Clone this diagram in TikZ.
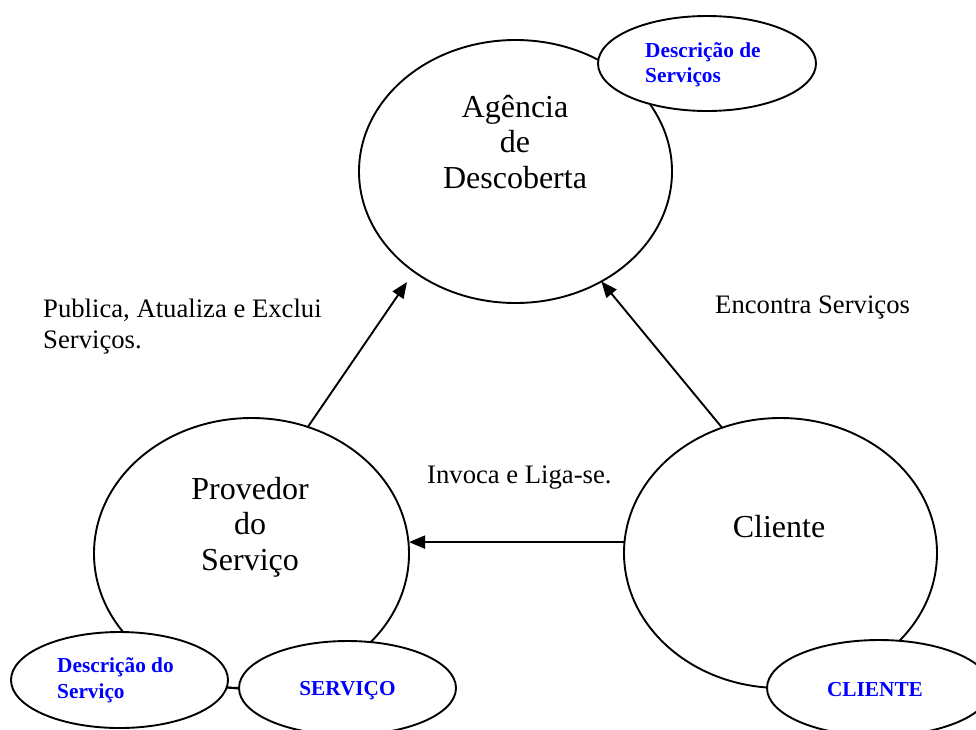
\documentclass[tikz,border=0pt]{standalone}
\usepackage{fontspec}
\setmainfont{Liberation Serif}
\usetikzlibrary{shapes.geometric,arrows.meta}
\definecolor{lblue}{RGB}{0,0,255}
\begin{document}
\begin{tikzpicture}[x=1pt,y=-1pt,
  ell/.style={ellipse,draw,line width=1.9pt,inner sep=0pt,outer sep=0pt,fill=white},
  bigtxt/.style={inner sep=0pt,align=center,font=\fontsize{32}{35.5}\selectfont},
  lbltxt/.style={inner sep=0pt,align=left,font=\fontsize{26.67}{31}\selectfont},
  bluetxt/.style={inner sep=0pt,align=left,text=lblue,font=\fontsize{21.3}{25.5}\selectfont\bfseries},
  arr/.style={line width=1.9pt,-{Triangle[length=16pt,width=13pt]}},
  link/.style={line width=1.9pt}
]
\clip (0,0) rectangle (976,729);
\fill[white] (0,0) rectangle (976,729);
% big ellipses
\node[ell,minimum width=313pt,minimum height=263pt] (ag) at (515.5,171.5) {};
\node[ell,minimum width=315pt,minimum height=271pt] (prov) at (251.5,553.5) {};
\node[ell,minimum width=313pt,minimum height=270pt] (cli) at (780.5,553) {};
% small ellipses
\node[ell,minimum width=218pt,minimum height=95pt] (dsv) at (707,63.5) {};
\node[ell,minimum width=217pt,minimum height=96pt] (dprov) at (119.5,680) {};
\node[ell,minimum width=217pt,minimum height=94pt] (serv) at (347.5,688) {};
\node[ell,minimum width=224pt,minimum height=96pt] (ccli) at (879,688) {};
\draw[link] (dprov.-4.3) -- (serv.west);
% texts
\node[bigtxt] (agt) at (515,142) {Agência\\de\\Descoberta};
\node[bigtxt] (provt) at (250,527) {Provedor\\do\\Serviço};
\node[bigtxt,anchor=base] (clit) at (779,537) {Cliente};
\node[lbltxt,anchor=west] (pub) at (43,326.5) {Publica, Atualiza e Exclui\\Serviços.};
\node[lbltxt,anchor=base west] (enc) at (715,313) {Encontra Serviços};
\node[lbltxt,anchor=base west] (inv) at (427,483) {Invoca e Liga-se.};
\node[bluetxt,anchor=west] (dsvt) at (645,64.7) {Descrição de\\Serviços};
\node[bluetxt,anchor=west] (dprovt) at (57,680.3) {Descrição do\\Serviço};
\node[bluetxt,anchor=base] (servt) at (347.5,695) {SERVIÇO};
\node[bluetxt,anchor=base] (cclit) at (875,696) {CLIENTE};
% arrows
\coordinate (tipA) at (407,282);
\draw[arr] (prov.66) -- (tipA);
\draw[arr] (cli.115) -- (ag.308);
\draw[arr] (cli.176.7) -- (cli.176.7 -| prov.east);
\end{tikzpicture}
\end{document}
